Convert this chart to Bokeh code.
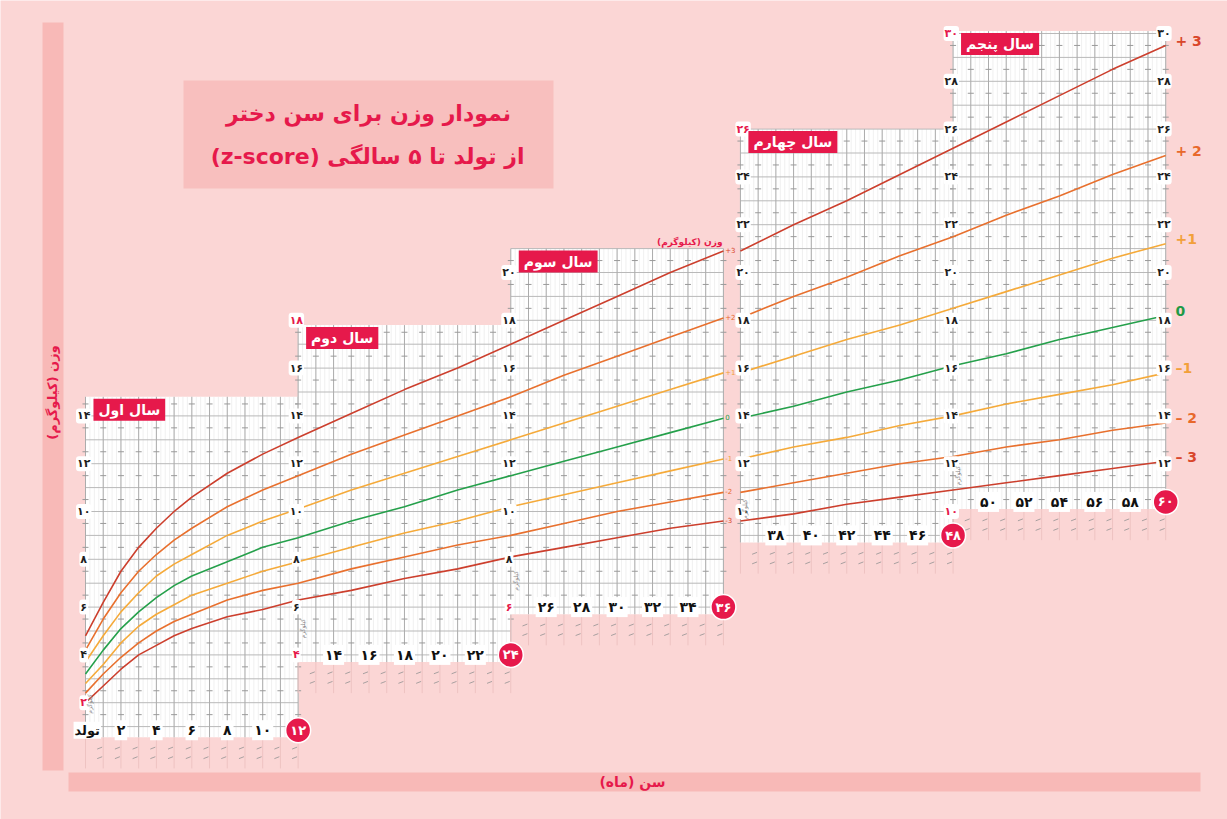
import numpy as np
from bokeh.plotting import figure
from bokeh.models import Range1d
from bokeh.core.properties import value
from bokeh.embed import file_html
from bokeh.resources import INLINE

# ---------------- data (weight-for-age, girls) ----------------
months = [0, 1, 2, 3, 4, 5, 6, 8, 10, 12, 15, 18, 21, 24, 27, 30, 33, 36,
          39, 42, 45, 48, 51, 54, 57, 60]
w_m3 = [2.0, 2.7, 3.4, 4.0, 4.4, 4.8, 5.1, 5.6, 5.9, 6.3, 6.7, 7.2, 7.6, 8.1, 8.5, 8.9, 9.3, 9.6,
        9.9, 10.3, 10.6, 10.9, 11.2, 11.5, 11.8, 12.1]
w_m2 = [2.4, 3.2, 3.9, 4.5, 5.0, 5.4, 5.7, 6.3, 6.7, 7.0, 7.6, 8.1, 8.6, 9.0, 9.5, 10.0, 10.4, 10.8,
        11.2, 11.6, 12.0, 12.3, 12.7, 13.0, 13.4, 13.7]
w_m1 = [2.8, 3.6, 4.5, 5.2, 5.7, 6.1, 6.5, 7.0, 7.5, 7.9, 8.5, 9.1, 9.6, 10.2, 10.7, 11.2, 11.7, 12.2,
        12.7, 13.1, 13.6, 14.0, 14.5, 14.9, 15.3, 15.8]
w_0 = [3.2, 4.2, 5.1, 5.8, 6.4, 6.9, 7.3, 7.9, 8.5, 8.9, 9.6, 10.2, 10.9, 11.5, 12.1, 12.7, 13.3, 13.9,
       14.4, 15.0, 15.5, 16.1, 16.6, 17.2, 17.7, 18.2]
w_p1 = [3.7, 4.8, 5.8, 6.6, 7.3, 7.8, 8.2, 9.0, 9.6, 10.1, 10.9, 11.6, 12.3, 13.0, 13.7, 14.4, 15.1, 15.8,
        16.5, 17.2, 17.8, 18.5, 19.2, 19.9, 20.6, 21.2]
w_p2 = [4.2, 5.5, 6.6, 7.5, 8.2, 8.8, 9.3, 10.2, 10.9, 11.5, 12.4, 13.2, 14.0, 14.8, 15.7, 16.5, 17.3, 18.1,
        19.0, 19.8, 20.7, 21.5, 22.4, 23.2, 24.1, 24.9]
w_p3 = [4.8, 6.2, 7.5, 8.5, 9.3, 10.0, 10.6, 11.6, 12.4, 13.1, 14.1, 15.1, 16.0, 17.0, 18.0, 19.0, 20.0, 20.9,
        22.0, 23.0, 24.1, 25.2, 26.3, 27.4, 28.5, 29.5]

z_names = ["+3", "+2", "+1", "0", "-1", "-2", "-3"]
z_right_labels = ["+ 3", "+ 2", "+1", "0", "\u20131", "\u2013 2", "\u2013 3"]
z_series = [w_p3, w_p2, w_p1, w_0, w_m1, w_m2, w_m3]

year_titles = ["سال اول", "سال دوم", "سال سوم", "سال چهارم", "سال پنجم"]
panel_first_month = [0, 12, 24, 36, 48]
panel_kg_min = [0.55, 3.7, 5.7, 8.7, 10.1]
panel_kg_max = [14.8, 17.8, 21.0, 26.0, 30.1]
month_ticks = [[2, 4, 6, 8, 10], [14, 16, 18, 20, 22], [26, 28, 30, 32, 34],
               [38, 40, 42, 44, 46], [50, 52, 54, 56, 58]]
end_months = [12, 24, 36, 48, 60]
edge_months = [0, 12, 24, 36, 48, 60]
edge_after_gap = [False, False, False, True, True, True]
edge_kg_ticks = [[2, 4, 6, 8, 10, 12, 14],
                 [4, 6, 8, 10, 12, 14, 16, 18],
                 [6, 8, 10, 12, 14, 16, 18, 20],
                 [10, 12, 14, 16, 18, 20, 22, 24, 26],
                 [10, 12, 14, 16, 18, 20, 22, 24, 26, 28, 30],
                 [12, 14, 16, 18, 20, 22, 24, 26, 28, 30]]
edge_kg_pink = [[2], [4, 18], [6], [26], [10, 30], []]

TITLE1 = "نمودار وزن برای سن دختر"
TITLE2 = "از تولد تا ۵ سالگی (z-score)"
Y_TITLE = "وزن (کیلوگرم)"
X_TITLE = "سن (ماه)"
BIRTH = "تولد"
KG_SMALL = "کیلوگرم"

# ---------------- styling ----------------
BG = "#fbd6d5"
STRIP = "#f8b9b7"
TITLE_BOX = "#f8bfbe"
CRIMSON = "#e6194b"
LINE_COLORS = ["#cc3f2d", "#e8702e", "#f5aa3a", "#25a04b", "#f5aa3a", "#e8702e", "#cc3f2d"]
LABEL_COLORS = ["#d9472b", "#e8692b", "#f2a03a", "#1f9a46", "#f2a03a", "#e8692b", "#d9472b"]
FONT = value("DejaVu Sans")
GAP = 0.96           # visual gap (months) between year 3 and year 4 blocks

S_X, X0 = 17.72, 85.0
S_Y, Y0 = 23.9, 750.0
W, H = 1227, 819


def PX(px):
    return (px - X0) / S_X


def PY(py):
    return (Y0 - py) / S_Y


def fa(n):
    return str(n).translate(str.maketrans("0123456789", "۰۱۲۳۴۵۶۷۸۹"))


def rtl(s):
    return "\u202b" + s + "\u202c"


p = figure(width=W, height=H, x_range=Range1d(PX(0), PX(W)), y_range=Range1d(PY(H), PY(0)),
           output_backend="svg", toolbar_location=None, min_border=0,
           x_axis_location=None, y_axis_location=None,
           background_fill_color=BG, border_fill_color=BG, outline_line_color=None)
p.xgrid.visible = False
p.ygrid.visible = False

# ---------- decorative strips and title box ----------
p.quad(left=[PX(42)], right=[PX(63)], bottom=[PY(770)], top=[PY(22)], fill_color=STRIP, line_color=None)
p.quad(left=[PX(68)], right=[PX(1200)], bottom=[PY(791)], top=[PY(772)], fill_color=STRIP, line_color=None)
p.quad(left=[PX(183)], right=[PX(553)], bottom=[PY(188)], top=[PY(80)], fill_color=TITLE_BOX, line_color=None)

p.text(x=[PX(368)], y=[PY(113)], text=[TITLE1], text_font=FONT, text_font_style="bold",
       text_font_size="22px", text_color=CRIMSON, text_align="center", text_baseline="middle")
p.text(x=[PX(367)], y=[PY(156)], text=[rtl(TITLE2)], text_font=FONT, text_font_style="bold",
       text_font_size="22px", text_color=CRIMSON, text_align="center", text_baseline="middle")
p.text(x=[PX(52)], y=[PY(392)], text=[rtl(Y_TITLE)], angle=np.pi / 2, text_font=FONT,
       text_font_style="bold", text_font_size="13px", text_color=CRIMSON,
       text_align="center", text_baseline="middle")
p.text(x=[PX(632)], y=[PY(781)], text=[rtl(X_TITLE)], text_font=FONT, text_font_style="bold",
       text_font_size="14px", text_color=CRIMSON, text_align="center", text_baseline="middle")

# ---------- panels ----------
for i in range(5):
    off = GAP if i >= 3 else 0.0
    x0 = panel_first_month[i] + off
    x1 = x0 + 12
    b, t = panel_kg_min[i], panel_kg_max[i]

    mm = np.arange(0, 13) + x0
    p.segment(x0=mm, y0=b, x1=mm, y1=b - 1.3, line_color="#eec3c2", line_width=1)
    for rowy in (b - 0.45, b - 0.85):
        md = mm[1:] - 0.2
        p.segment(x0=md - 0.14, y0=rowy - 0.04, x1=md + 0.14, y1=rowy + 0.04,
                  line_color="#a8a0a0", line_width=1)

    p.quad(left=[x0], right=[x1], bottom=[b], top=[t], fill_color="white", line_color=None)

    xs = np.arange(0, 12.001, 0.25) + x0
    p.segment(x0=xs, y0=b, x1=xs, y1=t, line_color="#ececec", line_width=0.8)
    ks = np.arange(np.ceil(b), np.floor(t) + 0.001, 1.0)
    p.segment(x0=x0, y0=ks, x1=x1, y1=ks, line_color="#b9b9b9", line_width=1)
    p.segment(x0=mm, y0=b, x1=mm, y1=t, line_color="#acacac", line_width=1)
    hk = np.arange(np.ceil(b) + 0.5 if np.ceil(b) - 0.5 < b else np.ceil(b) - 0.5, t, 1.0)
    gx, gy = np.meshgrid(mm, hk)
    gx, gy = gx.ravel(), gy.ravel()
    p.segment(x0=gx - 0.17, y0=gy, x1=gx + 0.17, y1=gy, line_color="#9a9a9a", line_width=1)

# ---------- z-score curves ----------
m = np.array(months, dtype=float)
first = m <= 36
second = m >= 36
for vals, col in zip(z_series, LINE_COLORS):
    v = np.array(vals)
    p.line(m[first], v[first], line_color=col, line_width=1.6, line_join="round")
    p.line(m[second] + GAP, v[second], line_color=col, line_width=1.6, line_join="round")

i36 = months.index(36)
i60 = months.index(60)
end36 = [vals[i36] for vals in z_series]
p.text(x=[36.1] * 7, y=[v + 0.05 for v in end36], text=z_names, text_font=FONT,
       text_font_size="7px", text_color=LABEL_COLORS, text_align="left", text_baseline="middle")
p.text(x=[35.95], y=[PY(241)], text=[rtl(Y_TITLE)], text_font=FONT, text_font_style="bold",
       text_font_size="9px", text_color=CRIMSON, text_align="right", text_baseline="middle")

end60 = [vals[i60] for vals in z_series]
p.text(x=[60 + GAP + 0.55] * 7, y=[v + 0.2 for v in end60], text=z_right_labels, text_font=FONT,
       text_font_style="bold", text_font_size="14px", text_color=LABEL_COLORS,
       text_align="left", text_baseline="middle")

# ---------- kg labels on panel edges ----------
for e in range(6):
    ex = edge_months[e] + (GAP if edge_after_gap[e] else 0.0)
    shift = 0.15 if e == 3 else -0.1
    ticks = edge_kg_ticks[e]
    cols = [CRIMSON if k in edge_kg_pink[e] else "#1e1e1e" for k in ticks]
    p.text(x=[ex + shift] * len(ticks), y=ticks, text=[fa(k) for k in ticks], text_font=FONT,
           text_font_style="bold", text_font_size="11px", text_color=cols,
           text_align="center", text_baseline="middle",
           background_fill_color="white", padding=1, border_radius=3)

# ---------- month labels ----------
for i in range(5):
    off = GAP if i >= 3 else 0.0
    row = panel_kg_min[i] + 0.3
    tks = month_ticks[i]
    p.text(x=[k + off for k in tks], y=[row] * len(tks), text=[fa(k) for k in tks], text_font=FONT,
           text_font_style="bold", text_font_size="14px", text_color="#111111",
           text_align="center", text_baseline="middle",
           background_fill_color="white", padding=2)
    ex = end_months[i] + off
    p.scatter(x=[ex], y=[row], size=25, marker="circle", fill_color=CRIMSON, line_color="white",
              line_width=1.5)
    p.text(x=[ex], y=[row], text=[fa(end_months[i])], text_font=FONT, text_font_style="bold",
           text_font_size="13px", text_color="white", text_align="center", text_baseline="middle")
    p.text(x=[panel_first_month[i] + off + 0.25], y=[row + 1.1], text=[KG_SMALL], angle=np.pi / 2,
           text_font=FONT, text_font_size="6px", text_color="#8a8a8a",
           text_align="center", text_baseline="middle")
    p.text(x=[panel_first_month[i] + off + 0.45], y=[panel_kg_max[i] - 0.08], text=[year_titles[i]],
           text_font=FONT, text_font_style="bold", text_font_size="14px", text_color="white",
           text_align="left", text_baseline="top", background_fill_color=CRIMSON, padding=(5, 3))

p.text(x=[0.1], y=[panel_kg_min[0] + 0.3], text=[BIRTH], text_font=FONT, text_font_style="bold",
       text_font_size="13px", text_color="#111111", text_align="center", text_baseline="middle",
       background_fill_color="white", padding=1)

open("out.html", "w").write(file_html(p, INLINE))
